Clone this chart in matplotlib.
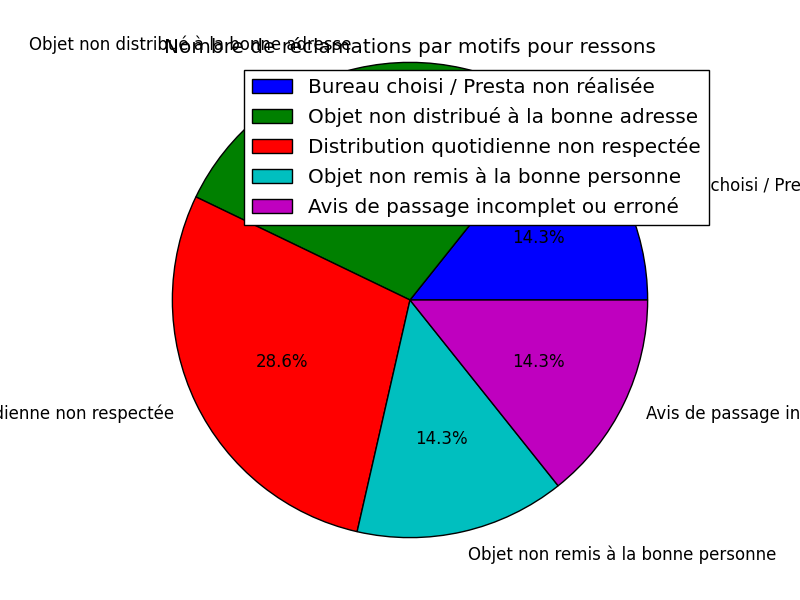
import matplotlib
matplotlib.use("Agg")
import matplotlib.pyplot as plt

plt.style.use('classic')

labels = ["Bureau choisi / Presta non réalisée",
          "Objet non distribué à la bonne adresse",
          "Distribution quotidienne non respectée",
          "Objet non remis à la bonne personne",
          "Avis de passage incomplet ou erroné"]
values = [1, 2, 2, 1, 1]
colors = ['b', 'g', 'r', 'c', 'm']
title = "Nombre de réclamations par motifs pour ressons"

fig = plt.figure(figsize=(8, 6), dpi=100)
ax = fig.add_subplot(111)
ax.pie(values, labels=labels, colors=colors, autopct='%1.1f%%')
ax.set_aspect('equal')
ax.set_xlim(-1.3, 1.3)
ax.set_ylim(-1.01, 1.01)
ax.set_title(title)
ax.legend(loc='upper right')
fig.savefig('out.png', dpi=100)
